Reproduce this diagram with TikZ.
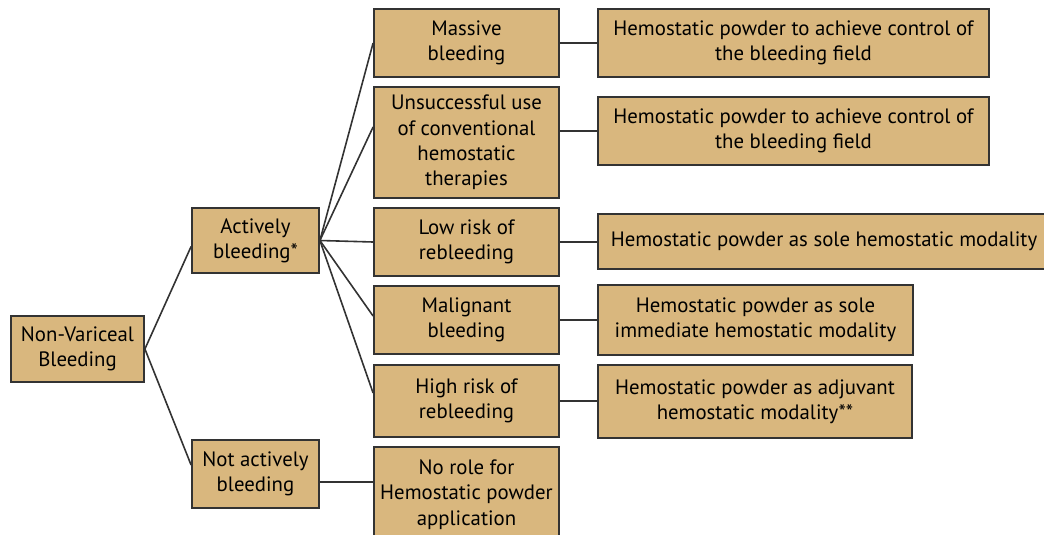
\documentclass[tikz,border=0pt]{standalone}
\usepackage{fontspec}
\setmainfont{PT Sans}
\definecolor{boxfill}{HTML}{D9B77E}
\definecolor{boxline}{HTML}{333333}
\tikzset{
  box/.style={draw=boxline, line width=1.8pt, fill=boxfill, inner sep=0pt,
    align=center, font=\fontsize{20.8}{25.3}\selectfont, text=black},
  link/.style={draw=boxline, line width=1.6pt}
}
\begin{document}
\begin{tikzpicture}[x=1pt,y=-1pt]
\useasboundingbox (0,0) rectangle (1044,535);
% left column
\node[box, minimum width=133pt, minimum height=66pt] (nv) at (77.5,349) {Non-Variceal\\Bleeding};
\node[box, minimum width=127pt, minimum height=65pt] (ab) at (255.5,240.5) {Actively\\bleeding*};
\node[box, minimum width=127pt, minimum height=68pt] (nab) at (255.5,474) {Not actively\\bleeding};
% middle column
\node[box, minimum width=185pt, minimum height=68pt] (m1) at (466.5,43) {Massive\\bleeding};
\node[box, minimum width=185pt, minimum height=111pt] (m2) at (466.5,142.5) {Unsuccessful use\\of conventional\\hemostatic\\therapies};
\node[box, minimum width=185pt, minimum height=68pt] (m3) at (466.5,242) {Low risk of\\rebleeding};
\node[box, minimum width=185pt, minimum height=68pt] (m4) at (466.5,320) {Malignant\\bleeding};
\node[box, minimum width=185pt, minimum height=72pt] (m5) at (466.5,401) {High risk of\\rebleeding};
\node[box, minimum width=185pt, minimum height=95pt] (m6) at (466.5,494.5) {No role for\\Hemostatic powder\\application};
% right column
\node[box, minimum width=391pt, minimum height=68pt] (r1) at (793.5,43) {Hemostatic powder to achieve control of\\the bleeding field};
\node[box, minimum width=391pt, minimum height=68pt] (r2) at (793.5,131) {Hemostatic powder to achieve control of\\the bleeding field};
\node[box, minimum width=452pt, minimum height=55pt] (r3) at (824,241.5) {Hemostatic powder as sole hemostatic modality};
\node[box, minimum width=315pt, minimum height=70pt] (r4) at (755.5,320) {Hemostatic powder as sole\\immediate hemostatic modality};
\node[box, minimum width=314pt, minimum height=73pt] (r5) at (755,401.5) {Hemostatic powder as adjuvant\\hemostatic modality**};
% connectors
\draw[link] (nv.east) -- ([yshift=-6pt]ab.west);
\draw[link] (nv.east) -- ([yshift=9pt]nab.west);
\draw[link] (ab.east) -- (m1.west);
\draw[link] (ab.east) -- ([yshift=15.5pt]m2.west);
\draw[link] (ab.east) -- (m3.west);
\draw[link] (ab.east) -- ([yshift=4pt]m4.west);
\draw[link] (ab.east) -- ([yshift=8pt]m5.west);
\draw[link] (m1.east) -- (r1.west);
\draw[link] (m2.east |- r2.west) -- (r2.west);
\draw[link] (m3.east) -- (m3.east -| r3.west);
\draw[link] (m4.east) -- (r4.west);
\draw[link] (m5.east) -- (m5.east -| r5.west);
\draw[link] ([yshift=-8pt]nab.east) -- ([yshift=-8pt]nab.east -| m6.west);
\end{tikzpicture}
\end{document}
